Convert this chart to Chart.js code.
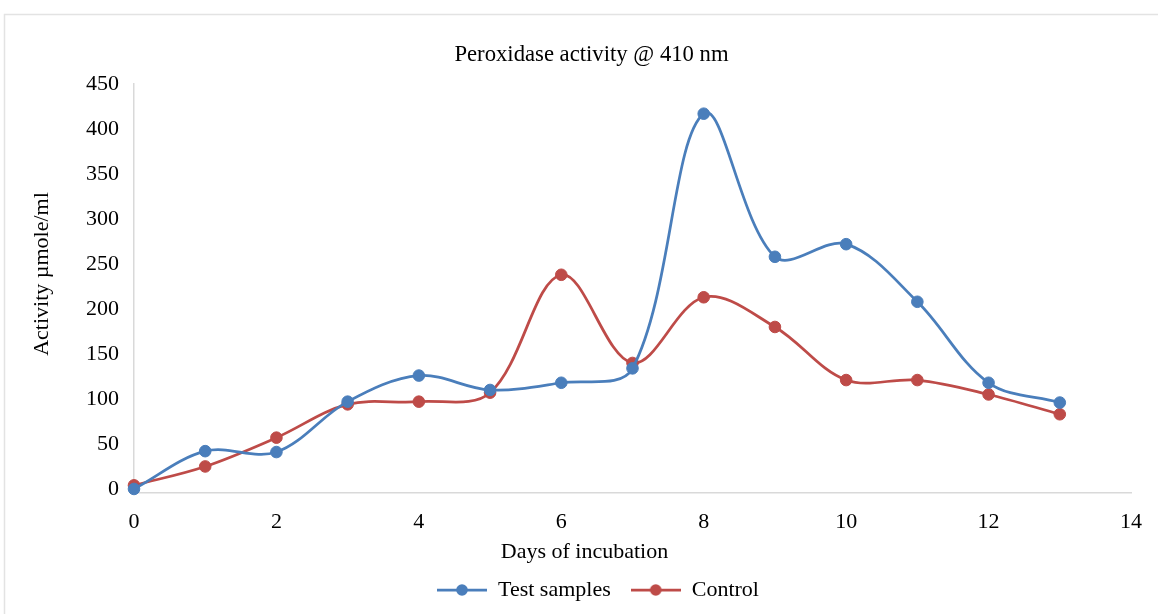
<!DOCTYPE html>
<html>
<head>
<meta charset="utf-8">
<script src="https://cdn.jsdelivr.net/npm/chart.js@4.4.1/dist/chart.umd.min.js"></script>
<style>
  html, body { margin: 0; padding: 0; background: #ffffff; }
  #wrap { width: 1158px; height: 614px; }
</style>
</head>
<body>
<div id="wrap"><canvas id="c" width="1158" height="614"></canvas></div>
<script>
// ---- data ----
const days = [0, 1, 2, 3, 4, 5, 6, 7, 8, 9, 10, 11, 12, 13];
const testSamples = [0, 42, 41, 97, 126, 110, 118, 134, 417, 258, 272, 208, 118, 96];
const control = [4, 25, 57, 94, 97, 107, 238, 140, 213, 180, 121, 121, 105, 83];
const xTicks = [0, 2, 4, 6, 8, 10, 12, 14];
const yTicks = [0, 50, 100, 150, 200, 250, 300, 350, 400, 450];
const seriesNames = ['Test samples', 'Control'];
const chartTitle = 'Peroxidase activity @ 410 nm';
const xTitle = 'Days of incubation';
const yTitle = 'Activity \u00B5mole/ml';

// ---- styles ----
const FONT = 'Liberation Serif, Times New Roman, serif';
const BLUE = '#4A7EBB';
const RED = '#BE4B48';
const AXIS = '#D9D9D9';

function legendIcon(color) {
  const c = document.createElement('canvas');
  c.width = 50; c.height = 14;
  const g = c.getContext('2d');
  g.strokeStyle = color; g.lineWidth = 2.75;
  g.beginPath(); g.moveTo(0, 7); g.lineTo(50, 7); g.stroke();
  g.fillStyle = color;
  g.beginPath(); g.arc(25, 7, 5.8, 0, Math.PI * 2); g.fill();
  return c;
}
const icons = [legendIcon(BLUE), legendIcon(RED)];

function shiftTitle(scale, dx, dy) {
  if (!scale || scale._titleShifted) return;
  const orig = scale.drawTitle;
  scale.drawTitle = function () {
    this.left += dx; this.right += dx; this.top += dy; this.bottom += dy;
    try { orig.call(this); } finally {
      this.left -= dx; this.right -= dx; this.top -= dy; this.bottom -= dy;
    }
  };
  scale._titleShifted = true;
}

const framePlugin = {
  id: 'frame',
  beforeDraw(chart) {
    const ctx = chart.ctx;
    ctx.save();
    ctx.fillStyle = '#ffffff';
    ctx.fillRect(0, 0, chart.width, chart.height);
    ctx.strokeStyle = '#E3E3E3';
    ctx.lineWidth = 1.5;
    ctx.strokeRect(4.5, 14.5, 1300, 800);
    ctx.restore();
  },
  afterLayout(chart) {
    shiftTitle(chart.scales.x, -48, 0);
    shiftTitle(chart.scales.y, 0, -14.5);
    const tb = chart.titleBlock;
    if (tb) { tb.left += 25; tb.right += 25; }
    const lg = chart.legend;
    if (lg && lg.lineWidths) {
      const pad = lg.options.labels.padding;
      const cur = (lg.left + pad + lg.right - lg.lineWidths[0]) / 2;
      const dx = 437 - cur;
      lg.left += dx; lg.right += dx;
    }
  }
};

const mk = (arr) => days.map((d, i) => ({ x: d, y: arr[i] }));

new Chart(document.getElementById('c'), {
  type: 'line',
  data: {
    datasets: [
      {
        label: seriesNames[0], data: mk(testSamples),
        borderColor: BLUE, backgroundColor: BLUE,
        pointBackgroundColor: BLUE, pointBorderColor: BLUE,
        borderWidth: 2.75, pointRadius: 5.8, pointBorderWidth: 1,
        tension: 0.35, fill: false, clip: false
      },
      {
        label: seriesNames[1], data: mk(control),
        borderColor: RED, backgroundColor: RED,
        pointBackgroundColor: RED, pointBorderColor: RED,
        borderWidth: 2.75, pointRadius: 5.8, pointBorderWidth: 1,
        tension: 0.35, fill: false, clip: false
      }
    ]
  },
  options: {
    responsive: false,
    animation: false,
    devicePixelRatio: 1,
    layout: { padding: { left: 0, right: 25, top: 0, bottom: 3 } },
    plugins: {
      tooltip: { enabled: false },
      title: {
        display: true, text: chartTitle, color: '#000',
        font: { family: FONT, size: 22.7, weight: 'normal', lineHeight: 1.163 },
        padding: { top: 42, bottom: 15.6 }
      },
      legend: {
        position: 'bottom',
        labels: {
          color: '#000',
          font: { family: FONT, size: 22 },
          usePointStyle: true,
          pointStyleWidth: 50,
          padding: 20,
          generateLabels(chart) {
            const items = Chart.defaults.plugins.legend.labels.generateLabels(chart);
            items.forEach((it, i) => { it.pointStyle = icons[i]; });
            return items;
          }
        }
      }
    },
    scales: {
      x: {
        type: 'linear', min: xTicks[0], max: xTicks[xTicks.length - 1],
        afterBuildTicks: (s) => { s.ticks = xTicks.map(v => ({ value: v })); },
        ticks: { stepSize: 2, padding: 16, color: '#000', font: { family: FONT, size: 22 } },
        grid: { display: false, drawTicks: false },
        border: { display: true, color: AXIS, width: 1.5 },
        title: {
          display: true, text: xTitle, color: '#000',
          font: { family: FONT, size: 22, lineHeight: 0.6 },
          padding: { top: 0, bottom: 0.4 }
        },
        afterFit: (s) => { s.height = 66; }
      },
      y: {
        type: 'linear', min: -4.5, max: yTicks[yTicks.length - 1],
        afterBuildTicks: (s) => { s.ticks = yTicks.map(v => ({ value: v })); },
        ticks: { stepSize: 50, padding: 15, color: '#000', font: { family: FONT, size: 22 } },
        grid: { display: false, drawTicks: false },
        border: { display: true, color: AXIS, width: 1.5 },
        title: {
          display: true, text: yTitle, color: '#000',
          font: { family: FONT, size: 22 },
          padding: { top: 29, bottom: 0 }
        },
        afterFit: (s) => { s.width = 134; }
      }
    }
  },
  plugins: [framePlugin]
});
</script>
</body>
</html>
